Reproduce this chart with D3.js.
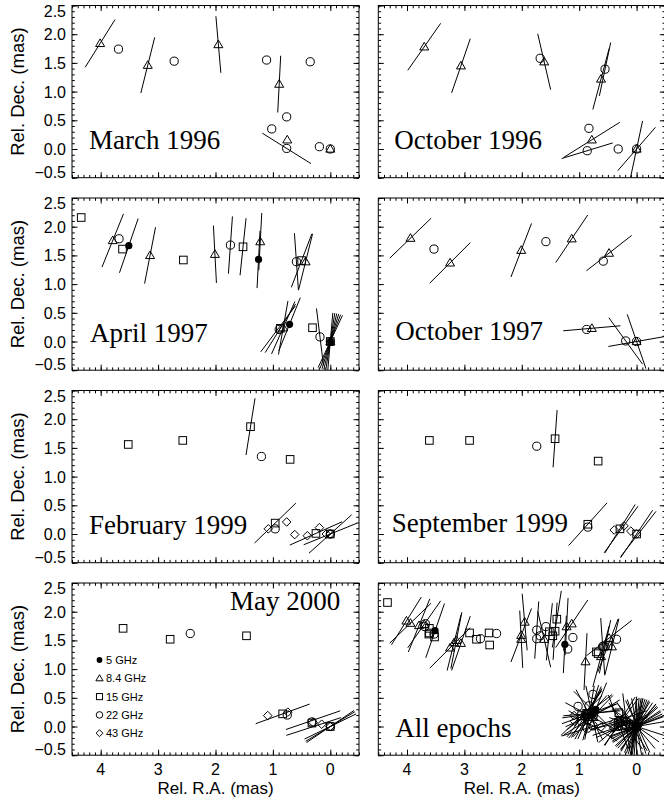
<!DOCTYPE html>
<html>
<head>
<meta charset="utf-8">
<script src="https://cdn.jsdelivr.net/npm/d3@7"></script>
<style>
  body { margin: 0; background: #fff; }
  svg { display: block; }
</style>
</head>
<body>
<svg id="chart" width="664" height="803"></svg>
<script>
// frequency bands and legend labels
const freqs = [5, 8.4, 15, 22, 43];
const freqLabels = ["5 GHz", "8.4 GHz", "15 GHz", "22 GHz", "43 GHz"];

const epochNames = ["March 1996", "October 1996", "April 1997", "October 1997",
                    "February 1999", "September 1999", "May 2000", "All epochs"];

const xTicks = [4, 3, 2, 1, 0];
const yTicks = [2.5, 2.0, 1.5, 1.0, 0.5, 0.0, -0.5];

// components: [freq (GHz), rel. R.A. (mas), rel. Dec. (mas)]
const mar96Pts = [
  [8.4, 4.01, 1.84], [22, 3.69, 1.74], [8.4, 3.18, 1.46], [22, 2.72, 1.53],
  [8.4, 1.95, 1.82], [22, 1.11, 1.55], [8.4, 0.89, 1.13], [22, 0.35, 1.52],
  [22, 0.76, 0.56], [22, 1.02, 0.35], [8.4, 0.75, 0.16], [22, 0.76, 0.01],
  [22, 0.19, 0.04], [22, 0.0, 0.0], [8.4, 0.0, 0.0]
];
const oct96Pts = [
  [8.4, 3.70, 1.78], [8.4, 3.06, 1.45], [22, 1.68, 1.58], [8.4, 1.61, 1.52],
  [22, 0.55, 1.39], [8.4, 0.62, 1.22], [22, 0.83, 0.36], [8.4, 0.78, 0.16],
  [22, 0.86, -0.03], [22, 0.32, 0.0], [22, 0.0, 0.0], [8.4, 0.0, 0.0]
];
const apr97Pts = [
  [15, 4.34, 2.16], [8.4, 3.79, 1.76], [22, 3.68, 1.79], [15, 3.62, 1.61],
  [5, 3.51, 1.67], [8.4, 3.14, 1.50], [15, 2.56, 1.42], [8.4, 2.01, 1.52],
  [22, 1.74, 1.68], [15, 1.52, 1.65], [8.4, 1.22, 1.74], [5, 1.25, 1.43],
  [22, 0.59, 1.39], [15, 0.50, 1.41], [8.4, 0.43, 1.39], [22, 0.89, 0.21],
  [15, 0.87, 0.23], [8.4, 0.82, 0.24], [5, 0.71, 0.30], [15, 0.31, 0.24],
  [22, 0.18, 0.08], [15, 0.0, 0.0], [5, 0.0, 0.0], [8.4, 0.0, 0.0], [22, 0.0, 0.0]
];
const oct97Pts = [
  [8.4, 3.94, 1.80], [22, 3.53, 1.61], [8.4, 3.25, 1.37], [8.4, 2.01, 1.59],
  [22, 1.58, 1.74], [8.4, 1.13, 1.79], [22, 0.58, 1.40], [8.4, 0.48, 1.54],
  [22, 0.87, 0.21], [8.4, 0.78, 0.23], [22, 0.19, 0.01], [22, 0.0, 0.0], [8.4, 0.0, 0.0]
];
const feb99Pts = [
  [15, 3.52, 1.56], [15, 2.57, 1.63], [15, 1.39, 1.87], [22, 1.20, 1.35],
  [15, 0.70, 1.30], [43, 1.08, 0.09], [15, 0.96, 0.19], [22, 0.96, 0.09],
  [43, 0.76, 0.21], [43, 0.62, -0.01], [43, 0.40, -0.03], [15, 0.25, 0.01],
  [43, 0.19, 0.11], [43, 0.07, 0.0], [15, 0.0, 0.0], [22, 0.0, 0.0], [43, 0.0, 0.0]
];
const sep99Pts = [
  [15, 3.61, 1.63], [15, 2.91, 1.63], [22, 1.74, 1.53], [15, 1.42, 1.66],
  [15, 0.67, 1.27], [15, 0.85, 0.17], [22, 0.85, 0.12], [43, 0.39, 0.07],
  [15, 0.29, 0.09], [43, 0.22, 0.14], [43, 0.10, 0.05], [15, 0.0, 0.0], [43, 0.0, 0.0]
];
const may00Pts = [
  [15, 3.61, 1.71], [15, 2.79, 1.52], [22, 2.44, 1.62], [15, 1.46, 1.58],
  [43, 1.09, 0.19], [15, 0.83, 0.22], [22, 0.75, 0.20], [43, 0.74, 0.25],
  [22, 0.32, 0.08], [15, 0.32, 0.06], [43, 0.30, 0.07], [43, 0.15, 0.04],
  [15, 0.0, 0.0], [43, 0.0, 0.0], [22, 0.0, 0.0]
];

// position-angle bars: [R.A., Dec., P.A. (deg, N through E), length (mas)]
const mar96Lines = [
  [4.01, 1.84, -32, 0.98], [3.18, 1.46, -14, 1.0], [1.95, 1.82, 5, 0.99],
  [0.89, 1.13, -3, 0.99], [0.76, 0.01, 58, 1.0]
];
const oct96Lines = [
  [3.70, 1.78, -35, 1.0], [3.06, 1.45, -19, 1.0], [1.61, 1.52, 13, 1.0],
  [0.62, 1.22, -15, 1.1], [0.55, 1.39, -12, 0.95], [0.78, 0.16, -58, 1.15],
  [0.86, -0.03, -73, 0.93], [0.0, 0.0, -41, 1.0], [0.0, 0.0, -12, 1.0]
];
const apr97Lines = [
  [3.79, 1.76, -22, 1.0], [3.51, 1.67, -19, 1.0], [3.14, 1.50, -11, 1.0],
  [2.01, 1.52, 3, 1.0], [1.74, 1.68, -4, 1.0], [1.52, 1.65, -6, 1.0],
  [1.22, 1.74, -3, 1.0], [1.25, 1.43, -3, 1.0], [0.59, 1.39, 4, 1.0],
  [0.50, 1.41, -21, 1.0], [0.43, 1.39, -14, 1.0],
  [0.91, 0.22, -37, 1.0], [0.87, 0.23, -32, 1.0], [0.82, 0.24, -24, 1.0],
  [0.71, 0.30, -22, 1.0], [0.82, 0.24, -10, 0.95],
  [0.18, 0.08, 7, 1.0],
  [0.0, 0.0, -5, 1.0], [0.0, 0.0, -9, 1.0], [0.0, 0.0, -13, 1.0],
  [0.0, 0.0, -17, 1.0], [0.0, 0.0, -21, 1.0], [0.0, 0.0, -25, 1.0]
];
const oct97Lines = [
  [3.94, 1.80, -46, 1.0], [3.25, 1.37, -45, 1.0], [2.01, 1.59, -21, 1.0],
  [1.13, 1.79, -34, 1.0], [0.48, 1.54, -52, 1.0], [0.78, 0.23, -85, 1.0],
  [0.19, 0.01, 36, 1.0], [0.0, 0.0, 19, 1.0], [0.0, 0.0, -80, 1.0]
];
const feb99Lines = [
  [1.39, 1.87, -9, 1.0], [0.96, 0.19, -46, 1.0], [0.25, 0.01, -66, 1.0],
  [0.0, 0.0, -48, 1.0], [0.0, 0.0, -68, 1.0]
];
const sep99Lines = [
  [1.42, 1.66, -4, 1.0], [0.85, 0.17, -42, 1.0], [0.29, 0.09, -32, 1.0],
  [0.27, 0.08, -36, 1.0], [0.0, 0.0, -34, 1.0], [-0.03, 0.0, -38, 1.0]
];
const may00Lines = [
  [0.83, 0.22, -70, 1.0], [0.30, 0.11, -71, 1.0], [0.29, 0.0, -72, 1.0],
  [0.0, 0.0, -59, 1.0], [0.0, 0.0, -56, 1.0], [0.0, 0.0, -64, 1.0]
];
// bars only visible in the combined panel (dense bundles near the core)
const allExtraLines = [
  [0.80, 0.22, -82, 1.0], [0.78, 0.20, -66, 1.0], [0.82, 0.25, -52, 1.0],
  [0.76, 0.18, -44, 1.0], [0.84, 0.22, -28, 1.0], [0.80, 0.24, -16, 1.0],
  [0.78, 0.22, 12, 1.0], [0.82, 0.20, 28, 1.0], [0.74, 0.26, 45, 1.0],
  [0.80, 0.18, 62, 1.0],
  [0.30, 0.06, -78, 1.0], [0.28, 0.04, -50, 1.0], [0.32, 0.08, 20, 1.0],
  [0.0, 0.0, -70, 1.0], [0.0, 0.0, -45, 1.0], [0.02, 0.0, -30, 1.0],
  [0.0, 0.02, 0, 1.0], [0.0, 0.0, 10, 1.0], [-0.02, 0.0, 25, 1.0],
  [0.0, 0.0, 40, 1.0], [0.02, 0.02, 55, 1.0], [0.0, 0.0, 72, 1.0],
  [0.05, -0.02, -5, 1.0], [0.08, 0.0, 32, 1.0]
];

const epochPts = [mar96Pts, oct96Pts, apr97Pts, oct97Pts, feb99Pts, sep99Pts, may00Pts];
const epochLines = [mar96Lines, oct96Lines, apr97Lines, oct97Lines, feb99Lines, sep99Lines, may00Lines];

// ---- layout ----
const colX = [72, 378.3];
const rowY = [5.5, 198, 390.5, 583];
const W = 287, H = 172.2;
const titlePos = [[17, 143], [16, 143], [18, 143.5], [17, 142], [17, 143], [13.5, 141], [158, 27], [17, 153.5]];
const sans = "'Liberation Sans', Arial, Helvetica, sans-serif";
const serif = "'Liberation Serif', 'Times New Roman', serif";

const svg = d3.select("#chart");

const x = d3.scaleLinear().domain([4.5, -0.5]).range([0, W]);
const y = d3.scaleLinear().domain([2.5, -0.5]).range([0, H]);

const xMinor = d3.range(-5, 46).map(d => d / 10);
const yMinor = d3.range(-5, 26).map(d => d / 10);

function drawMarker(g, f, cx, cy, s) {
  if (f === 5) {
    g.append("circle").attr("cx", cx).attr("cy", cy).attr("r", 3.6 * s).attr("fill", "#000");
  } else if (f === 8.4) {
    const a = 4.5 * s;
    g.append("path")
      .attr("d", `M${cx},${cy - a}L${cx + a},${cy + a * 0.7}L${cx - a},${cy + a * 0.7}Z`)
      .attr("fill", "none").attr("stroke", "#000");
  } else if (f === 15) {
    const a = 3.8 * s;
    g.append("rect").attr("x", cx - a).attr("y", cy - a).attr("width", 2 * a).attr("height", 2 * a)
      .attr("fill", "none").attr("stroke", "#000");
  } else if (f === 22) {
    g.append("circle").attr("cx", cx).attr("cy", cy).attr("r", 4.1 * s)
      .attr("fill", "none").attr("stroke", "#000");
  } else if (f === 43) {
    const a = 4.3 * s;
    g.append("path")
      .attr("d", `M${cx},${cy - a}L${cx + a},${cy}L${cx},${cy + a}L${cx - a},${cy}Z`)
      .attr("fill", "none").attr("stroke", "#000");
  }
}

function drawPanel(i) {
  const col = i % 2, row = Math.floor(i / 2);
  const g = svg.append("g").attr("transform", `translate(${colX[col]},${rowY[row]})`);

  const pts = i < 7 ? epochPts[i] : epochPts.flat();
  const lines = i < 7 ? epochLines[i] : epochLines.flat().concat(allExtraLines);

  g.append("clipPath").attr("id", "clip" + i)
    .append("rect").attr("width", W).attr("height", H);

  const plot = g.append("g").attr("clip-path", `url(#clip${i})`);

  plot.selectAll("line.pa")
    .data(lines)
    .enter()
    .append("line")
    .attr("class", "pa")
    .attr("x1", d => x(d[0] + d[3] / 2 * Math.sin(d[2] * Math.PI / 180)))
    .attr("y1", d => y(d[1] + d[3] / 2 * Math.cos(d[2] * Math.PI / 180)))
    .attr("x2", d => x(d[0] - d[3] / 2 * Math.sin(d[2] * Math.PI / 180)))
    .attr("y2", d => y(d[1] - d[3] / 2 * Math.cos(d[2] * Math.PI / 180)))
    .attr("stroke", "#000")
    .attr("stroke-width", 1);

  pts.forEach(p => drawMarker(plot, p[0], x(p[1]), y(p[2]), 1));

  // ticks, all four sides, pointing inward
  const major = 5.5, minor = 2.8;
  const axes = [
    [d3.axisBottom(x).tickValues(xMinor).tickSize(-minor), `translate(0,${H})`],
    [d3.axisTop(x).tickValues(xMinor).tickSize(-minor), null],
    [d3.axisBottom(x).tickValues(xTicks).tickSize(-major), `translate(0,${H})`],
    [d3.axisTop(x).tickValues(xTicks).tickSize(-major), null],
    [d3.axisLeft(y).tickValues(yMinor).tickSize(-minor), null],
    [d3.axisRight(y).tickValues(yMinor).tickSize(-minor), `translate(${W},0)`],
    [d3.axisLeft(y).tickValues(yTicks).tickSize(-major), null],
    [d3.axisRight(y).tickValues(yTicks).tickSize(-major), `translate(${W},0)`]
  ];
  axes.forEach(([ax, tr]) => {
    const a = g.append("g").call(ax.tickFormat(""));
    if (tr) a.attr("transform", tr);
    a.select(".domain").remove();
    a.selectAll("line").attr("stroke", "#000");
  });

  g.append("rect").attr("width", W).attr("height", H)
    .attr("fill", "none").attr("stroke", "#000").attr("stroke-width", 1);

  // tick labels (end labels nudged inside the frame, as in the original)
  if (col === 0) {
    g.selectAll("text.ylab")
      .data(yTicks)
      .enter()
      .append("text")
      .attr("class", "ylab")
      .attr("x", -6)
      .attr("y", d => y(d) + 6 + (d === 2.5 ? 5 : d === -0.5 ? -6 : 0))
      .attr("text-anchor", "end")
      .attr("font-family", sans)
      .attr("font-size", 16)
      .text(d => d3.format(".1f")(d));

    g.append("text")
      .attr("transform", `translate(-48,${H / 2}) rotate(-90)`)
      .attr("text-anchor", "middle")
      .attr("font-family", sans)
      .attr("font-size", 18.5)
      .text("Rel. Dec. (mas)");
  }
  if (row === 3) {
    g.selectAll("text.xlab")
      .data(xTicks)
      .enter()
      .append("text")
      .attr("class", "xlab")
      .attr("x", d => x(d))
      .attr("y", H + 19.3)
      .attr("text-anchor", "middle")
      .attr("font-family", sans)
      .attr("font-size", 16)
      .text(d => d);

    g.append("text")
      .attr("x", W / 2)
      .attr("y", H + 38.5)
      .attr("text-anchor", "middle")
      .attr("font-family", sans)
      .attr("font-size", 17)
      .text("Rel. R.A. (mas)");
  }

  g.append("text")
    .attr("x", titlePos[i][0])
    .attr("y", titlePos[i][1])
    .attr("font-family", serif)
    .attr("font-size", 27)
    .text(epochNames[i]);

  // legend in the May 2000 panel
  if (i === 6) {
    const lg = g.append("g");
    freqs.forEach((f, k) => {
      const ly = 77 + k * 18.3;
      drawMarker(lg, f, 27.5, ly, 0.8);
      lg.append("text")
        .attr("x", 34)
        .attr("y", ly + 4)
        .attr("font-family", sans)
        .attr("font-size", 11)
        .text(freqLabels[k]);
    });
  }
}

d3.range(8).forEach(drawPanel);
</script>
</body>
</html>
